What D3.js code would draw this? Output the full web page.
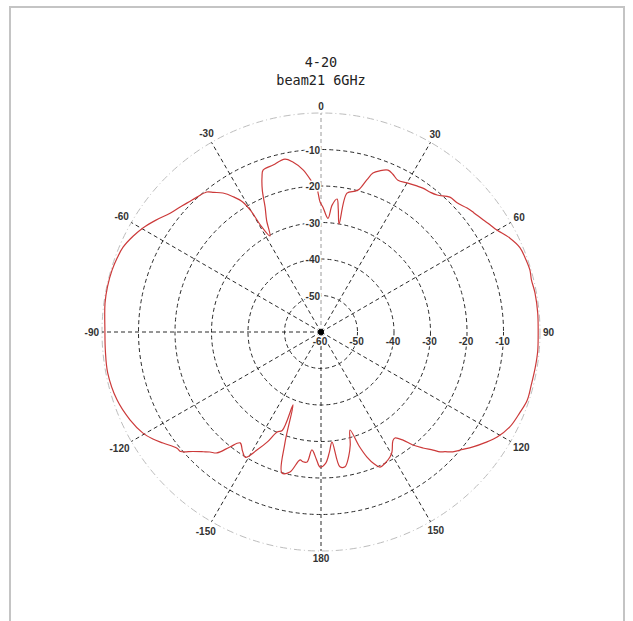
<!DOCTYPE html>
<html>
<head>
<meta charset="utf-8">
<script src="https://cdn.jsdelivr.net/npm/d3@7"></script>
<style>
  html, body { margin: 0; padding: 0; background: #fff; }
  svg { display: block; }
</style>
</head>
<body>
<svg id="chart"></svg>
<script>
// pattern data, angle in degrees (0 = top, clockwise), gain in dB
var angles = [
  -179.6, -178, -175.6, -173.9, -172.1, -170.7, -167.5, -164.5, -162, -159, -158.5, -156.3,
  -154, -151.5, -148.9, -146.5, -143.9, -141.6, -139.3, -137.2, -135.5, -133, -130.4, -128.9,
  -125.1, -122.5, -119.6, -114.7, -108.4, -100.9, -95, -89.7, -82.4, -78, -73.5, -70,
  -66.8, -63, -59.7, -56, -51.8, -48.4, -45.5, -42.6, -39.2, -37.5, -35.2, -33,
  -31, -30, -29.5, -28, -26, -24.1, -22.5, -20.8, -19.7, -16, -11.8, -9.4,
  -6.3, -3.1, -1.6, -0.4,
  0.9, 3.5, 5, 6.9, 8, 9.5, 10.6, 13.6, 15, 16.8, 18.1, 20,
  22.5, 24.5, 26.9, 30, 33, 35.3, 38, 40.3, 43.7, 46.5, 49.7, 52,
  55.3, 57.5, 59.9, 63.6, 67, 70, 73.5, 76, 79.7, 85, 90.3, 95,
  99.3, 104, 108.3, 112, 116.7, 120.8, 124, 127.1, 130, 132.3, 134, 135.2,
  136.5, 138.7, 140.9, 142.8, 145.1, 146.5, 149.4, 151.1, 154, 156.4, 158, 159.8,
  161.5, 163.5, 165.5, 167.5, 169.9, 172, 174.3, 176, 178
];
var gains = [
  -23.0, -25, -27.6, -24.2, -24.1, -24.5, -20.7, -19.9, -28, -38.6, -31, -30.1,
  -26.5, -23.2, -19.9, -21, -22.4, -19.8, -16.3, -15.2, -14.0, -12, -9.5, -9.3,
  -7.1, -5.4, -3.9, -2.4, -1.1, -0.5, -0.7, -0.8, -0.3, -0.2, -0.3, -0.6,
  -1.0, -2.2, -3.5, -5.3, -7.4, -8.4, -9.2, -9.8, -10.5, -11.8, -13.4, -15.8,
  -18.5, -22, -26.5, -30.2, -26, -22.5, -18, -14.5, -12.9, -12.4, -11.6, -12.8,
  -15.3, -19.2, -20.8, -24.4,
  -25.8, -28.8, -25.1, -23.3, -26, -30, -21.3, -20.3, -19.5, -16.4, -14.2, -13.0,
  -12.0, -12.5, -13.4, -12.8, -12.2, -11.7, -11.4, -10.8, -8.9, -8.6, -7.5, -6.9,
  -6.0, -5.2, -4.3, -2.2, -0.8, -0.5, -0.3, -0.6, -0.4, -0.4, -0.5, -0.4,
  -0.5, -0.6, -0.5, -1.2, -2.1, -3.8, -5.8, -7.8, -9.8, -11.2, -12.8, -13.7,
  -15.4, -17.7, -20.1, -22.8, -24.6, -24.3, -21.8, -20.9, -20.0, -19.6, -21, -23.5,
  -27, -32.0, -28, -25, -22.5, -22.7, -29.7, -27, -24
];
var ringValues = [-50, -40, -30, -20, -10];
var radialLabels = [-60, -50, -40, -30, -20, -10];
var spokeAngles = [-150, -120, -90, -60, -30, 0, 30, 60, 120, 150, 180];
var angleLabels = [0, 30, 60, 90, 120, 150, 180, -150, -120, -90, -60, -30];
var titleLines = ["4-20", "beam21 6GHz"];

var W = 633, H = 621;
var cx = 321, cy = 332;

var svg = d3.select("#chart").attr("width", W).attr("height", H);

// frame
svg.append("rect")
   .attr("x", 10).attr("y", 7)
   .attr("width", 614).attr("height", 640)
   .attr("fill", "none")
   .attr("stroke", "#c4c4c4")
   .attr("stroke-width", 2);

// title
svg.selectAll("text.title")
   .data(titleLines)
   .enter()
   .append("text")
   .attr("class", "title")
   .attr("x", cx)
   .attr("y", function(d, i) { return 67 + i * 18; })
   .attr("text-anchor", "middle")
   .attr("font-family", "'DejaVu Sans Mono', monospace")
   .attr("font-size", 13.5)
   .attr("fill", "#222")
   .text(function(d) { return d; });

var r = d3.scaleLinear().domain([-60, 0]).range([0, 219]).clamp(true);
var rad = function(a) { return a * Math.PI / 180; };

var g = svg.append("g").attr("transform", "translate(" + cx + "," + cy + ")");

// outer 0 dB ring
g.append("circle")
 .attr("r", r(0))
 .attr("fill", "none")
 .attr("stroke", "#bdbdbd")
 .attr("stroke-width", 1)
 .attr("stroke-dasharray", "7,3,1,3");

// dashed rings
g.selectAll("circle.ring")
 .data(ringValues)
 .enter()
 .append("circle")
 .attr("class", "ring")
 .attr("r", function(d) { return r(d); })
 .attr("fill", "none")
 .attr("stroke", "#2a2a2a")
 .attr("stroke-width", 1)
 .attr("stroke-dasharray", "4,3");

// spokes
g.selectAll("line.spoke")
 .data(spokeAngles)
 .enter()
 .append("line")
 .attr("class", "spoke")
 .attr("x1", 0).attr("y1", 0)
 .attr("x2", function(d) { return r(0) * Math.sin(rad(d)); })
 .attr("y2", function(d) { return -r(0) * Math.cos(rad(d)); })
 .attr("stroke", function(d) { return d === 0 ? "#9a9a9a" : "#2a2a2a"; })
 .attr("stroke-width", 1)
 .attr("stroke-dasharray", "4,3");

// pattern
var pts = angles.map(function(a, i) { return { a: a, g: gains[i] }; });
var line = d3.lineRadial()
             .angle(function(d) { return rad(d.a); })
             .radius(function(d) { return r(d.g); })
             .curve(d3.curveCatmullRomClosed.alpha(0.5));

g.append("path")
 .datum(pts)
 .attr("d", line)
 .attr("fill", "none")
 .attr("stroke", "#cc3a3a")
 .attr("stroke-width", 1.2);

// centre dot
g.append("circle").attr("r", 3).attr("fill", "#000");

var labelFont = "'Liberation Sans', Arial, sans-serif";

// radial labels along horizontal (right)
g.selectAll("text.rh")
 .data(radialLabels)
 .enter()
 .append("text")
 .attr("class", "rh")
 .attr("x", function(d) { return r(d) - 1; })
 .attr("y", 13)
 .attr("text-anchor", "middle")
 .attr("font-family", labelFont)
 .attr("font-weight", "bold")
 .attr("font-size", 10)
 .attr("fill", "#333")
 .attr("stroke", "#fff").attr("stroke-width", 3).attr("paint-order", "stroke")
 .text(function(d) { return d; });

// radial labels along vertical (up)
g.selectAll("text.rv")
 .data(ringValues)
 .enter()
 .append("text")
 .attr("class", "rv")
 .attr("x", -1)
 .attr("y", function(d) { return -r(d) + 4; })
 .attr("text-anchor", "end")
 .attr("font-family", labelFont)
 .attr("font-weight", "bold")
 .attr("font-size", 10)
 .attr("fill", "#333")
 .attr("stroke", "#fff").attr("stroke-width", 3).attr("paint-order", "stroke")
 .text(function(d) { return d; });

// angle labels outside the ring
g.selectAll("text.ang")
 .data(angleLabels)
 .enter()
 .append("text")
 .attr("class", "ang")
 .attr("text-anchor", "middle")
 .attr("font-family", labelFont)
 .attr("font-weight", "bold")
 .attr("font-size", 10)
 .attr("fill", "#333")
 .text(function(d) { return d; })
 .each(function(d) {
   var tw = this.getComputedTextLength();
   var s = Math.sin(rad(d)), c = Math.cos(rad(d));
   var rr = r(0) + 3 + (tw / 2) * Math.abs(s) + 4 * Math.abs(c);
   d3.select(this)
     .attr("x", rr * s)
     .attr("y", -rr * c + 3.5);
 });
</script>
</body>
</html>
